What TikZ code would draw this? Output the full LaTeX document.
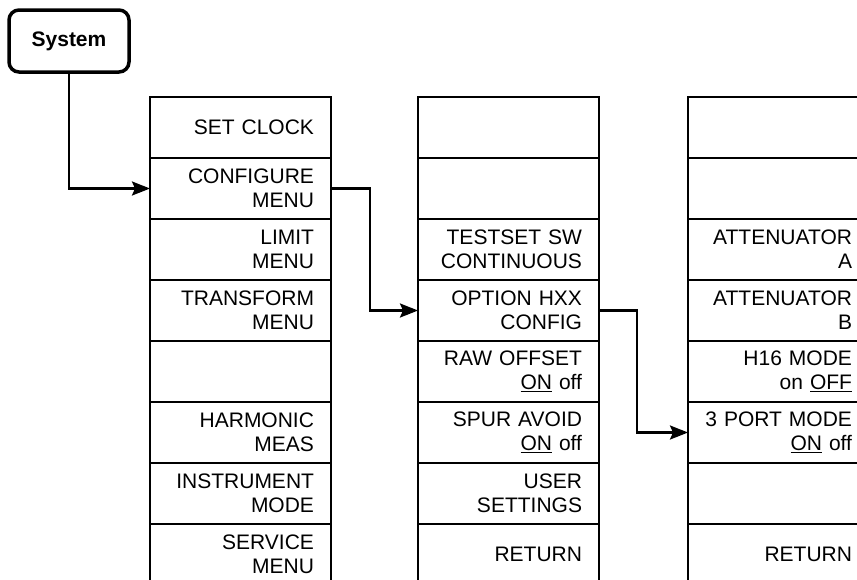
\documentclass[tikz,border=0pt]{standalone}
\usepackage{fontspec}
\setsansfont{Liberation Sans}
\usetikzlibrary{arrows.meta,positioning}

\begin{document}
\begin{tikzpicture}[x=1pt, y=-1pt, font=\sffamily\fontsize{21}{24}\selectfont,
  >={Stealth[length=18pt, width=14pt, inset=3pt]},
  key/.style={draw, line width=2pt, outer sep=0pt, minimum width=181pt, minimum height=61pt,
    text width=147pt, inner xsep=17pt, inner ysep=0pt, align=right},
  hardkey/.style={draw, line width=3.5pt, rounded corners=10pt, minimum width=120pt, minimum height=62pt, font=\sffamily\bfseries\fontsize{21}{24}\selectfont},
  link/.style={->, line width=2.5pt}]
  \useasboundingbox (0,0) rectangle (857,579);
  \clip (0,0) rectangle (857,579);
  \node[hardkey] (sys) at (69,41) {System};
  % first menu
  \node[key] (clk) at (240.5,127.5) {SET CLOCK};
  \node[key, below=0pt of clk] (cfg) {CONFIGURE\\MENU};
  \node[key, below=0pt of cfg] (lim) {LIMIT\\MENU};
  \node[key, below=0pt of lim] (trf) {TRANSFORM\\MENU};
  \node[key, below=0pt of trf] (blk) {};
  \node[key, below=0pt of blk] (harm) {HARMONIC\\MEAS};
  \node[key, below=0pt of harm] (inst) {INSTRUMENT\\MODE};
  \node[key, below=0pt of inst] (svc) {SERVICE\\MENU};
  % configure menu
  \node[key, right=87pt of clk] (cfga) {};
  \node[key, below=0pt of cfga] (cfgb) {};
  \node[key, below=0pt of cfgb] (tsw) {TESTSET SW\\CONTINUOUS};
  \node[key, below=0pt of tsw] (hxx) {OPTION HXX\\CONFIG};
  \node[key, below=0pt of hxx] (raw) {RAW OFFSET\\\underline{ON} off};
  \node[key, below=0pt of raw] (spur) {SPUR AVOID\\\underline{ON} off};
  \node[key, below=0pt of spur] (user) {USER\\SETTINGS};
  \node[key, below=0pt of user] (ret) {RETURN};
  % option hxx menu
  \node[key, right=89pt of cfga] (opta) {};
  \node[key, below=0pt of opta] (optb) {};
  \node[key, below=0pt of optb] (atta) {ATTENUATOR\\A};
  \node[key, below=0pt of atta] (attb) {ATTENUATOR\\B};
  \node[key, below=0pt of attb] (hmode) {H16 MODE\\on \underline{OFF}};
  \node[key, below=0pt of hmode] (port) {3 PORT MODE\\\underline{ON} off};
  \node[key, below=0pt of port] (optc) {};
  \node[key, below=0pt of optc] (ret3) {RETURN};
  \draw[link] (sys.south) |- (cfg.west);
  \draw[link] (cfg.east) -- ++(39,0) |- (hxx.west);
  \draw[link] (hxx.east) -- ++(38,0) |- (port.west);
\end{tikzpicture}
\end{document}
